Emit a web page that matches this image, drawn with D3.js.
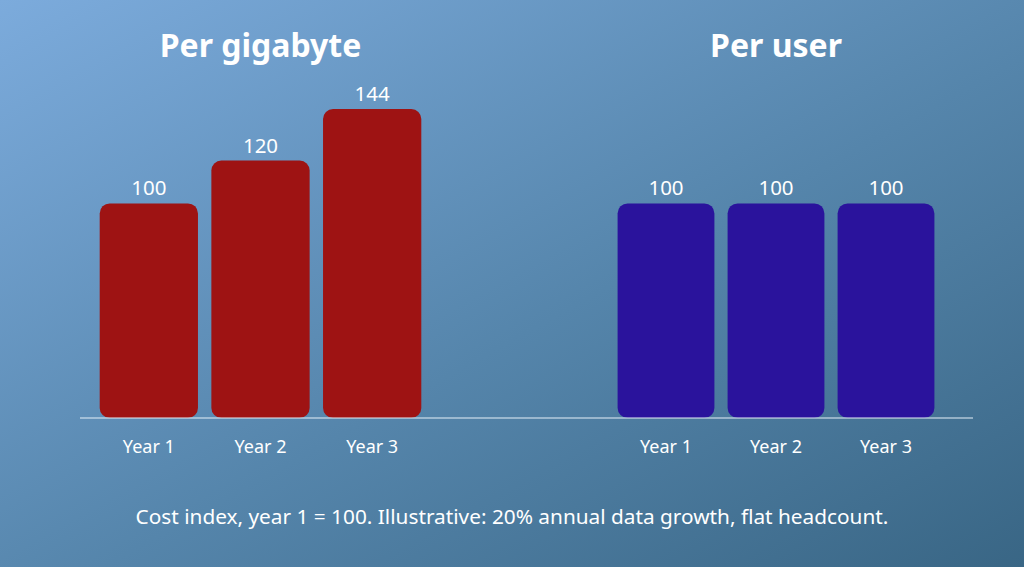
<!DOCTYPE html>
<html>
<head>
<meta charset="utf-8">
<script src="https://cdn.jsdelivr.net/npm/d3@7"></script>
<style>
  html, body { margin: 0; padding: 0; }
  body { width: 1024px; height: 567px; overflow: hidden; font-family: "Noto Sans", "Open Sans", sans-serif; }
</style>
</head>
<body>
<div id="svg-area"></div>
<script>
const width = 1024;
const height = 567;
const baseY = 418;

const years = ['Year 1', 'Year 2', 'Year 3'];
const perGigabyte = [100, 120, 144];
const perUser = [100, 100, 100];
const panelTitles = ['Per gigabyte', 'Per user'];
const caption = 'Cost index, year 1 = 100. Illustrative: 20% annual data growth, flat headcount.';

const panels = [
  {title: panelTitles[0], values: perGigabyte, color: '#9e1313', range: [93, 428]},
  {title: panelTitles[1], values: perUser, color: '#2a139c', range: [611, 941]}
];

const y = d3.scaleLinear()
  .domain([0, 144])
  .range([baseY, 109]);

const svg = d3.select('#svg-area').append('svg')
  .attr('width', width)
  .attr('height', height);

const grad = svg.append('defs').append('linearGradient')
  .attr('id', 'bg')
  .attr('x1', '0%').attr('y1', '0%')
  .attr('x2', '100%').attr('y2', '100%');
grad.append('stop').attr('offset', '0%').attr('stop-color', '#7cabdc');
grad.append('stop').attr('offset', '55%').attr('stop-color', '#5585ab');
grad.append('stop').attr('offset', '100%').attr('stop-color', '#396685');

svg.append('rect')
  .attr('width', width)
  .attr('height', height)
  .attr('fill', 'url(#bg)');

panels.forEach(p => {
  const x = d3.scaleBand()
    .domain(years)
    .range(p.range)
    .paddingInner(0.12)
    .paddingOuter(0.06);

  const data = years.map((yr, i) => ({year: yr, value: p.values[i]}));
  const g = svg.append('g');

  g.append('text')
    .attr('x', (p.range[0] + p.range[1]) / 2)
    .attr('y', 57)
    .attr('text-anchor', 'middle')
    .attr('fill', '#ffffff')
    .style('font-size', '32px')
    .style('font-weight', 'bold')
    .text(p.title);

  g.selectAll('rect').data(data).enter().append('rect')
    .attr('x', d => x(d.year))
    .attr('y', d => y(d.value))
    .attr('width', x.bandwidth())
    .attr('height', d => y(0) - y(d.value))
    .attr('rx', 10)
    .attr('fill', p.color);

  g.selectAll('text.val').data(data).enter().append('text')
    .attr('class', 'val')
    .attr('x', d => x(d.year) + x.bandwidth() / 2)
    .attr('y', d => y(d.value) - 8)
    .attr('text-anchor', 'middle')
    .attr('fill', '#ffffff')
    .style('font-size', '20.5px')
    .text(d => d.value);

  // x axis labels
  g.append('g')
    .attr('transform', `translate(0, ${baseY})`)
    .call(d3.axisBottom(x).tickSize(0).tickPadding(22))
    .call(g => g.select('.domain').remove())
    .call(g => g.selectAll('text')
      .attr('fill', '#ffffff')
      .style('font-size', '18px')
      .style('font-family', '"Noto Sans", sans-serif'));
});

svg.append('line')
  .attr('x1', 80).attr('x2', 973)
  .attr('y1', baseY).attr('y2', baseY)
  .attr('stroke', '#e6f0f8')
  .attr('stroke-width', 1);

svg.append('text')
  .attr('x', 512)
  .attr('y', 524)
  .attr('text-anchor', 'middle')
  .attr('fill', '#ffffff')
  .style('font-size', '20.8px')
  .text(caption);
</script>
</body>
</html>
